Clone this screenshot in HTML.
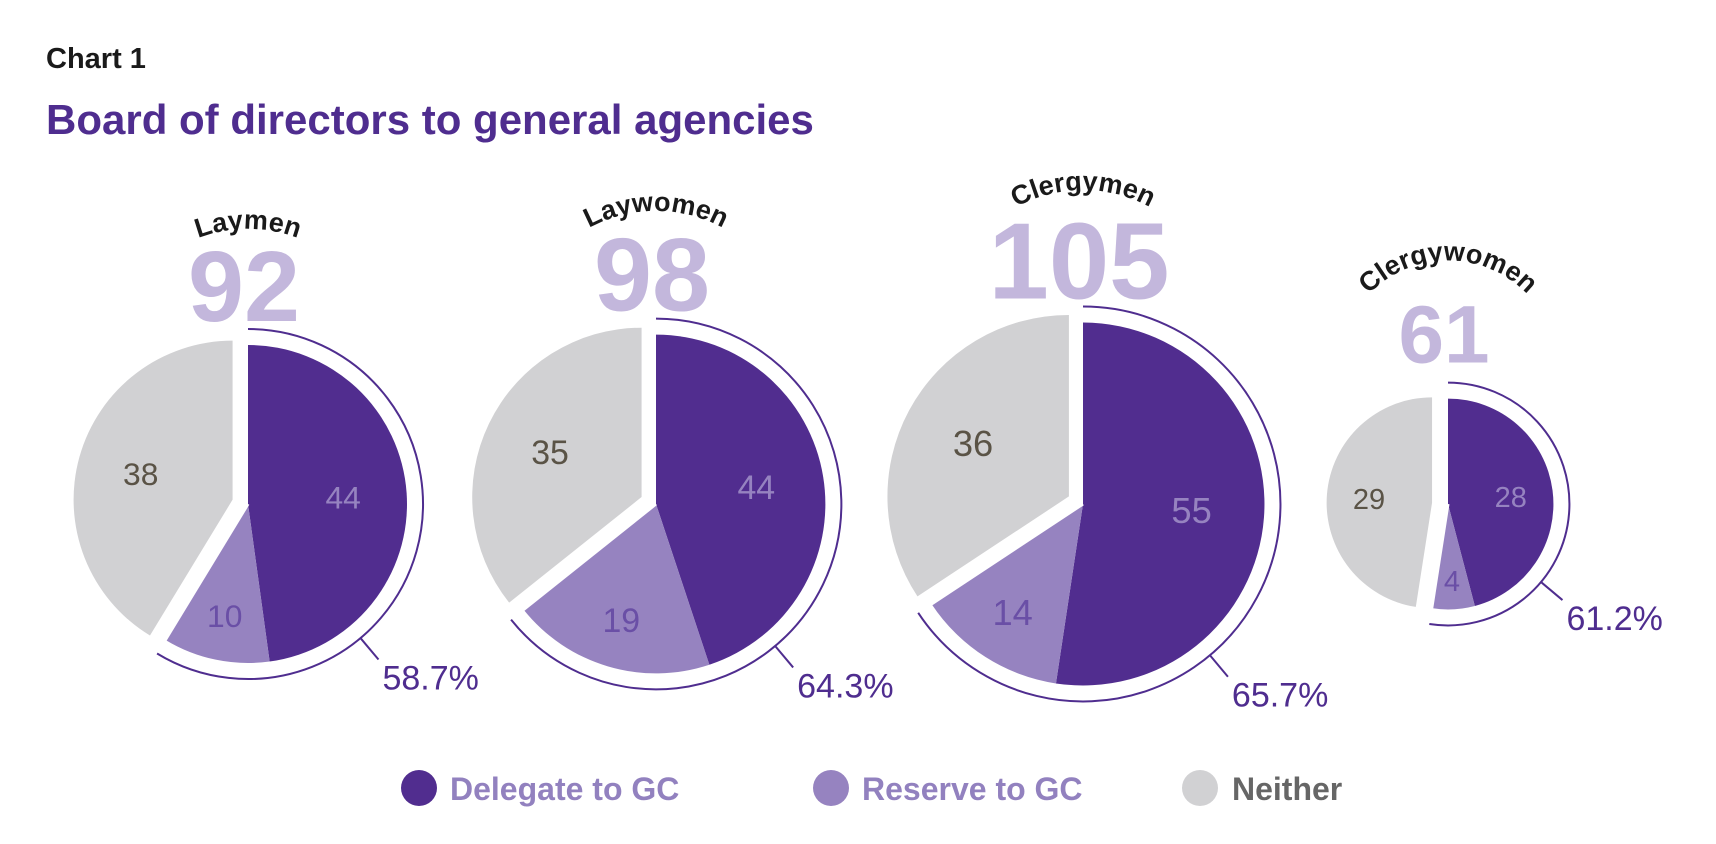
<!DOCTYPE html>
<html><head><meta charset="utf-8"><style>
html,body{margin:0;padding:0;background:#fff;}
svg{display:block;font-family:"Liberation Sans",sans-serif;}
</style></head><body>
<svg id="chart" width="1716" height="844" viewBox="0 0 1716 844" xmlns="http://www.w3.org/2000/svg">
<text x="46" y="68" font-size="29" font-weight="bold" fill="#1a1a1a">Chart 1</text>
<text x="46" y="134" font-size="42" font-weight="bold" fill="#4f2d8f">Board of directors to general agencies</text>
<g id="pies"></g>
<g>
 <circle cx="419" cy="788" r="18" fill="#512d8f"/>
 <text x="450" y="800" font-size="32" font-weight="bold" fill="#9281bf">Delegate to GC</text>
 <circle cx="831" cy="788" r="18" fill="#9683c0"/>
 <text x="862" y="800" font-size="32" font-weight="bold" fill="#9281bf">Reserve to GC</text>
 <circle cx="1200" cy="788" r="18" fill="#d1d1d3"/>
 <text x="1232" y="800" font-size="32" font-weight="bold" fill="#666666">Neither</text>
</g>
</svg>
<script>
const categories = ["Laymen", "Laywomen", "Clergymen", "Clergywomen"];
const delegateValues = [44, 44, 55, 28];
const reserveValues = [10, 19, 14, 4];
const neitherValues = [38, 35, 36, 29];
const percentLabels = ["58.7%", "64.3%", "65.7%", "61.2%"];

const NS = "http://www.w3.org/2000/svg";
const g = document.getElementById("pies");
const centersX = [248, 656, 1083, 1448];
const cy = 504;
const radiusPerUnit = 159 / 92;
function mk(tag, attrs, parent) {
  const e = document.createElementNS(NS, tag);
  for (const k in attrs) e.setAttribute(k, attrs[k]);
  (parent || g).appendChild(e);
  return e;
}
function pt(cx, cy, r, a) { const t = a * Math.PI / 180; return [cx + r * Math.sin(t), cy - r * Math.cos(t)]; }
function wedge(cx, cy, r, a0, a1) {
  const p0 = pt(cx, cy, r, a0), p1 = pt(cx, cy, r, a1);
  const large = (a1 - a0) > 180 ? 1 : 0;
  return `M${cx},${cy} L${p0[0]},${p0[1]} A${r},${r} 0 ${large} 1 ${p1[0]},${p1[1]} Z`;
}
categories.forEach((cat, i) => {
  const d = delegateValues[i], rv = reserveValues[i], n = neitherValues[i];
  const total = d + rv + n;
  const r = total * radiusPerUnit;
  const cx = centersX[i];
  const aD = d / total * 360, aR = rv / total * 360;
  const grp = mk("g", {});
  
  
  const s1 = mk("path", { d: wedge(cx, cy, r, 0, aD), fill: "#512d8f" }, grp);
  
  
  const s2 = mk("path", { d: wedge(cx, cy, r, aD, aD + aR), fill: "#9683c0" }, grp);
  
  
  const mid = (aD + aR + 360) / 2;
  const off = pt(0, 0, 16, mid);
  const s3 = mk("path", { d: wedge(cx + off[0], cy + off[1], r, aD + aR, 360), fill: "#d1d1d3" }, grp);
  
  
  const sepA = pt(cx, cy, r + 2, aD + aR);
  const sep = mk("line", { x1: cx, y1: cy, x2: sepA[0], y2: sepA[1], stroke: "#fff", "stroke-width": 3 }, grp);
  
  
  const R = r + 16, aE = aD + aR;
  const q0 = pt(cx, cy, R, 0), q1 = pt(cx, cy, R, aE);
  const arc = mk("path", { d: `M${q0[0]},${q0[1]} A${R},${R} 0 ${aE > 180 ? 1 : 0} 1 ${q1[0]},${q1[1]}`, fill: "none", stroke: "#4f2d8f", "stroke-width": 2 }, grp);
  
  
  const ta = i === 3 ? 130 : 140;
  const t0 = pt(cx, cy, R, ta), t1 = pt(cx, cy, R + 28, ta);
  const tick = mk("line", { x1: t0[0], y1: t0[1], x2: t1[0], y2: t1[1], stroke: "#4f2d8f", "stroke-width": 2 }, grp);
  
  
  const pl = mk("text", { x: t1[0] + 4, y: t1[1] + 30, "font-size": 34, fill: "#4f2d8f" }, grp);
  pl.textContent = percentLabels[i];
  
  
  const lbl = (val, a0, a1, rr, color, ox, oy, name) => {
    const p = pt(cx + ox, cy + oy, rr, (a0 + a1) / 2);
    const t = mk("text", { x: p[0], y: p[1] + 11, "text-anchor": "middle", "font-size": Math.max(29, r * 0.2), fill: color }, grp);
    t.textContent = val;
    
    
  };
  lbl(d, 0, aD, r * 0.6, "#9683c0", 0, 0, 'value-delegate');
  lbl(rv, aD, aD + aR, r * 0.72, "#6a4fa6", 0, 0, 'value-reserve');
  lbl(n, aD + aR, 360, r * 0.6, "#5a5346", off[0], off[1], 'value-neither');
  const tot = mk("text", { x: cx - 4, y: cy - r - 24 - (i === 3 ? 12 : 0), "text-anchor": "middle", "font-size": 45 + r * 0.35, "font-weight": "bold", fill: "#c3b7dc" }, grp);
  tot.textContent = total;
  
  
  const by = i === 3 ? cy - r - 138 : cy - r * 1.73;
  const ar = i === 3 ? 110 : 140;
  const pid = "lab" + i;
  const lp = mk("path", { id: pid, d: `M${cx - ar},${by + ar} A${ar},${ar} 0 0 1 ${cx + ar},${by + ar}`, fill: "none", stroke: "none" }, grp);
  
  
  const ct = mk("text", { "font-size": 27, "font-weight": "bold", fill: "#1a1a1a", "text-anchor": "middle" }, grp);
  
  
  const tp = mk("textPath", { href: "#" + pid, startOffset: "50%" }, ct);
  tp.textContent = cat;
});
</script>
</body></html>
